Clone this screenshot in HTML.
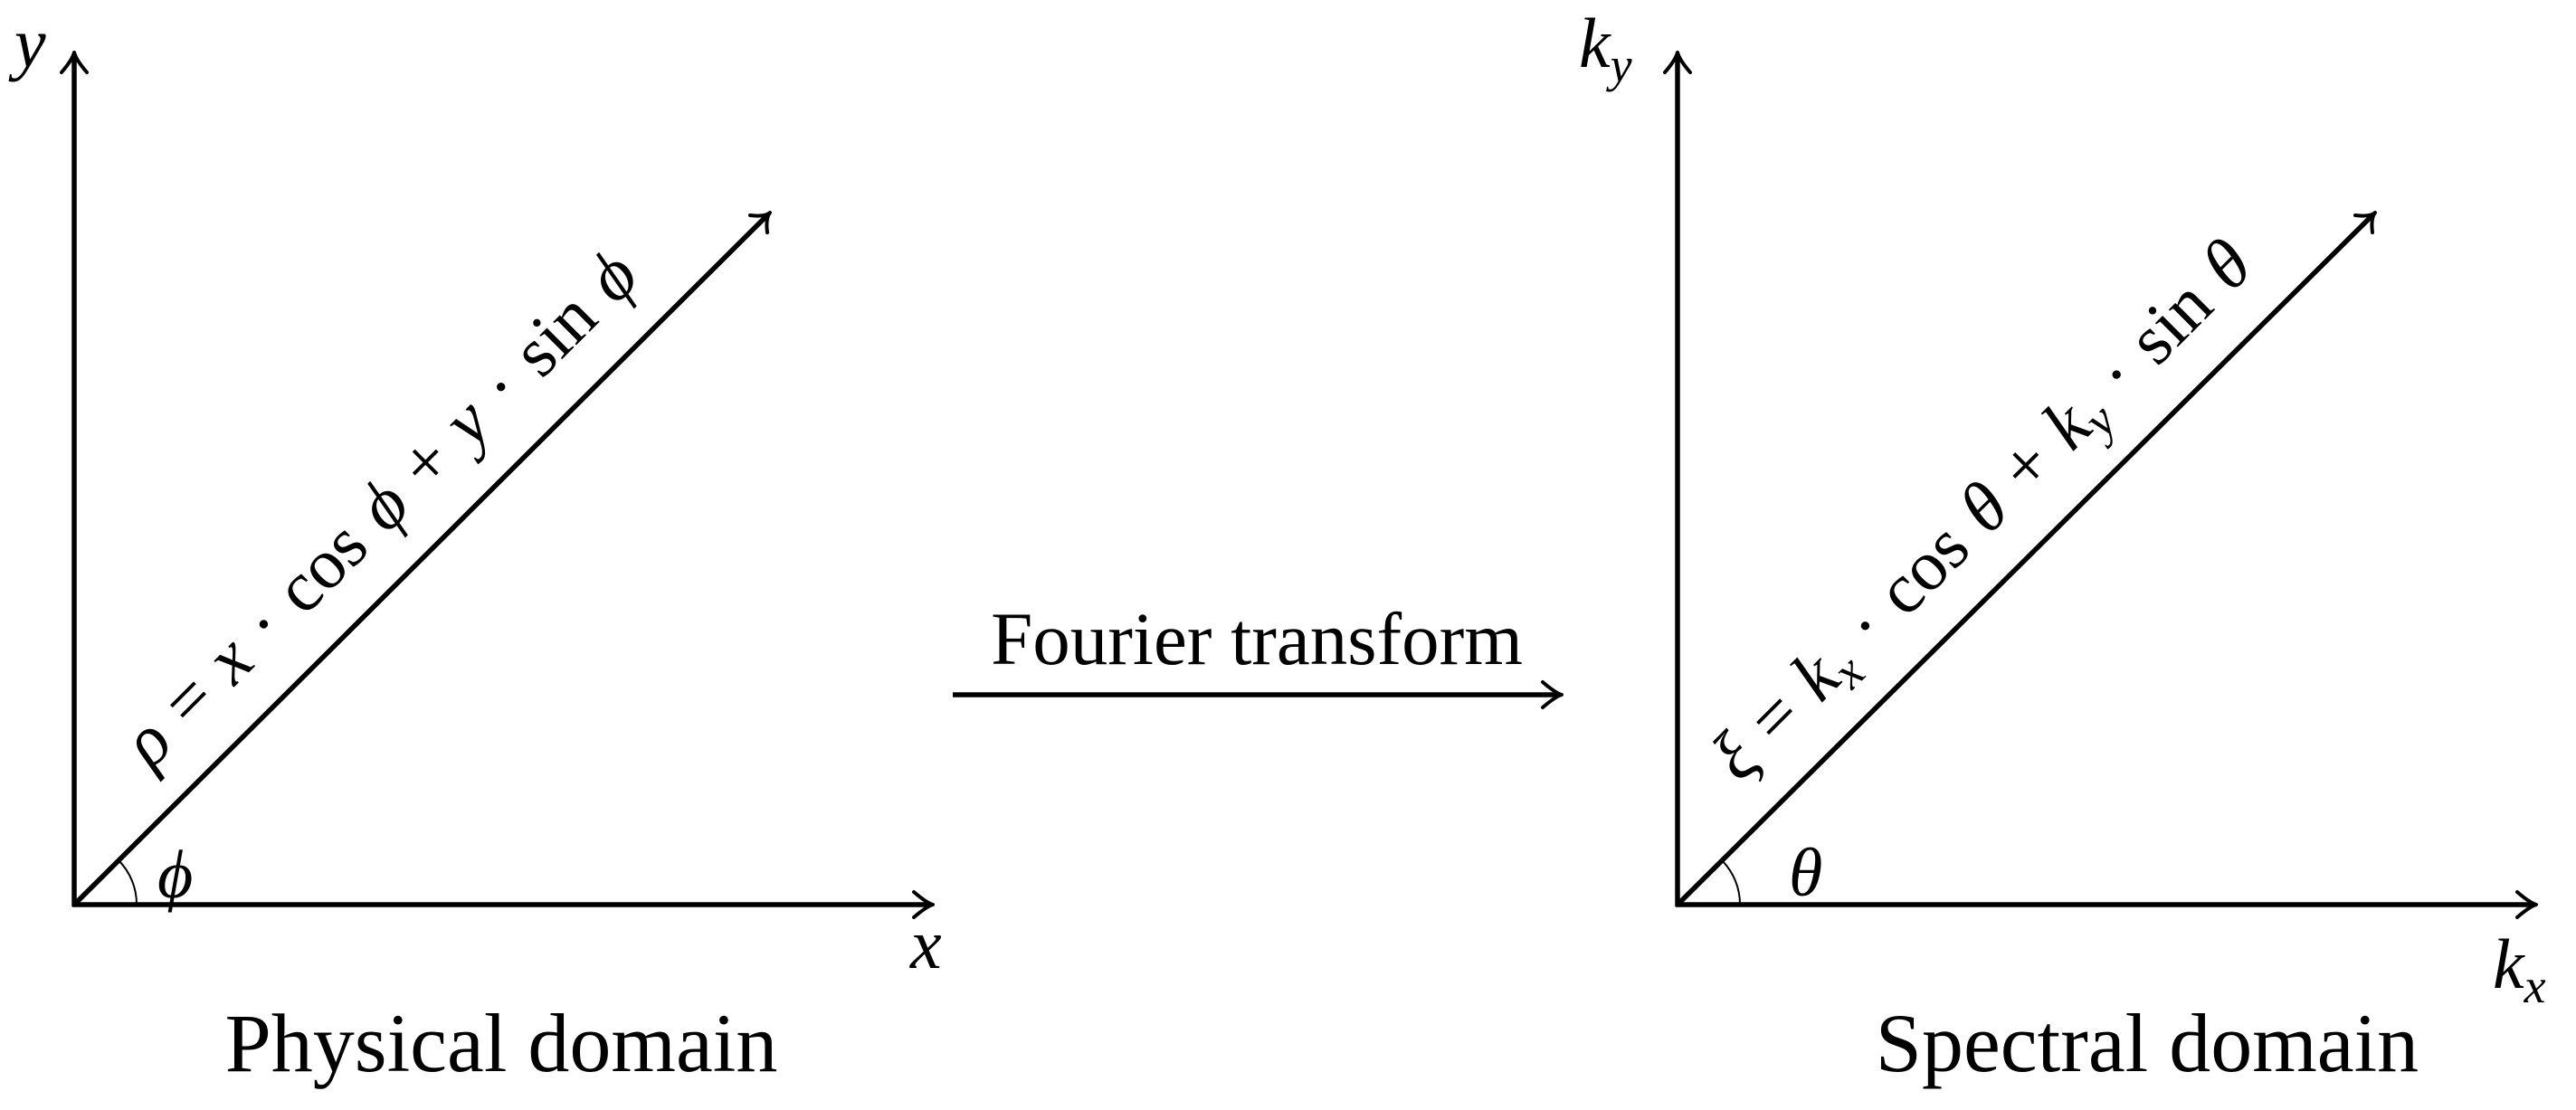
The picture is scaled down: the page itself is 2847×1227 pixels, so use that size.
<!DOCTYPE html>
<html><head><meta charset="utf-8"><style>
html,body{margin:0;padding:0;background:#fff;}
svg{display:block;}
text{font-family:"Liberation Serif",serif;fill:#000;}
.i{font-style:italic;}
</style></head><body>
<svg width="2847" height="1227" viewBox="0 0 2847 1227" xmlns="http://www.w3.org/2000/svg">
<g stroke="#000" stroke-width="5.5" fill="none" stroke-linecap="butt">
 <line x1="82" y1="1002" x2="82" y2="60"/>
 <line x1="80" y1="1000" x2="1028" y2="1000"/>
 <line x1="82" y1="1000" x2="848" y2="238"/>
 <line x1="1854" y1="1002" x2="1854" y2="60"/>
 <line x1="1852" y1="1000" x2="2800" y2="1000"/>
 <line x1="1854" y1="1000" x2="2622" y2="238"/>
 <line x1="1053" y1="768" x2="1723" y2="768"/>
</g>
<g stroke="#000" stroke-width="4" fill="none" stroke-linecap="round" stroke-linejoin="round">
 <path d="M68 80 Q80 66 82 58 Q84 66 96 80"/>
 <path d="M1840 80 Q1852 66 1854 58 Q1856 66 1868 80"/>
 <path d="M1010 986 Q1024 998 1031 1000 Q1024 1002 1010 1014"/>
 <path d="M2782 986 Q2796 998 2803 1000 Q2796 1002 2782 1014"/>
 <path d="M1705 754 Q1719 766 1726 768 Q1719 770 1705 782"/>
 <path d="M829 238 Q845 240 851 235 Q846 241 848 257"/>
 <path d="M2603 238 Q2619 240 2625 235 Q2620 241 2622 257"/>
</g>
<g stroke="#000" stroke-width="2" fill="none">
 <path d="M151 1000 A69 69 0 0 0 131 951"/>
 <path d="M1923 1000 A69 69 0 0 0 1903 951"/>
</g>
<text class="i" x="16" y="74" font-size="78">y</text>
<text class="i" x="1006" y="1070" font-size="78">x</text>
<text class="i" x="1745" y="74" font-size="78">k<tspan font-size="54" dy="16">y</tspan></text>
<text class="i" x="2755" y="1092" font-size="78">k<tspan font-size="54" dy="16">x</tspan></text>
<text class="i" x="174" y="992" font-size="76">ϕ</text>
<text class="i" x="1977" y="990" font-size="76">θ</text>
<text x="1389" y="734" font-size="83" text-anchor="middle">Fourier transform</text>
<text x="554" y="1184" font-size="92" text-anchor="middle">Physical domain</text>
<text x="2373" y="1184" font-size="92" text-anchor="middle">Spectral domain</text>
<g transform="translate(470,612) rotate(-45)">
<text y="-45" font-size="79" text-anchor="middle" word-spacing="4"><tspan class="i">ρ</tspan> = <tspan class="i">x</tspan> · cos <tspan class="i">ϕ</tspan> + <tspan class="i">y</tspan> · sin <tspan class="i">ϕ</tspan></text>
</g>
<g transform="translate(2240,614) rotate(-45)">
<text y="-45" font-size="79" text-anchor="middle" word-spacing="4"><tspan class="i">ξ</tspan> = <tspan class="i">k<tspan font-size="54" dy="14">x</tspan></tspan><tspan dy="-14"> · cos </tspan><tspan class="i">θ</tspan> + <tspan class="i">k<tspan font-size="54" dy="14">y</tspan></tspan><tspan dy="-14"> · sin </tspan><tspan class="i">θ</tspan></text>
</g>
</svg>
</body></html>
